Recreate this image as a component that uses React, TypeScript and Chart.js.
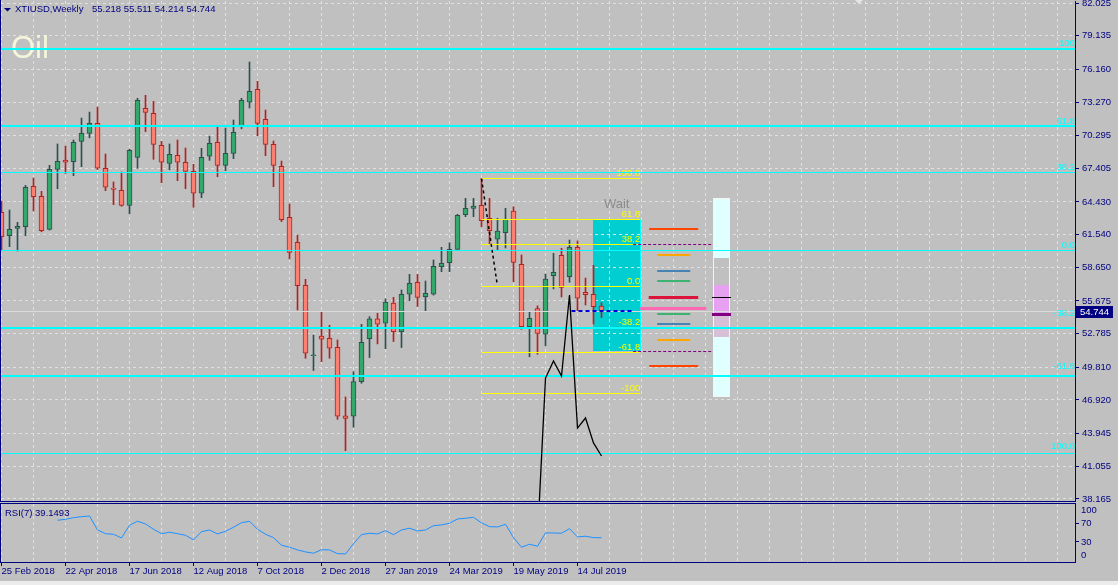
import React, { useEffect, useRef } from "react";
import { Chart, registerables } from "chart.js";

Chart.register(...registerables);

// ---------------- data ----------------
const SYMBOL_TEXT = "XTIUSD,Weekly";
const LAST_BAR_OHLC = [55.218, 55.511, 54.214, 54.744];
const CHART_TITLE = "Oil";
const RSI_TITLE = "RSI(7)";
const WAIT_TEXT = "Wait";

const DATE_LABELS = [
  "25 Feb 2018", "22 Apr 2018", "17 Jun 2018", "12 Aug 2018", "7 Oct 2018",
  "2 Dec 2018", "27 Jan 2019", "24 Mar 2019", "19 May 2019", "14 Jul 2019",
];
const BARS_PER_LABEL = 8;
const BARS_PER_GRID = 4;
const VISIBLE_BARS = 134.25;
const FIRST_BAR_OFFSET = -0.0625;

const PRICE_TICKS = [82.025, 79.135, 76.16, 73.27, 70.295, 67.405, 64.43, 61.54, 58.65, 55.675, 52.785, 49.81, 46.92, 43.945, 41.055, 38.165];
const PRICE_MIN = 37.988;
const PRICE_MAX = 82.202;
const RSI_TICKS = [100, 70, 30, 0];
const RSI_MARKED = [70, 30];
const RSI_MIN = -14;
const RSI_MAX = 113.1;

const OPEN = [63.52, 61.45, 62.09, 62.24, 65.82, 64.93, 62.01, 67.32, 68.14, 67.99,
  69.79, 70.5, 71.38, 67.41, 65.66, 65.46, 64.13, 68.38, 72.71, 72.27,
  69.44, 67.85, 68.56, 67.94, 67.14, 65.2, 68.47, 69.71, 67.67, 68.73,
  71.12, 73.25, 74.39, 71.74, 69.53, 67.58, 63.07, 60.86, 57.06, 50.83,
  52.58, 52.38, 51.58, 45.53, 45.48, 48.54, 52.35, 54.09, 53.71, 55.48,
  52.97, 56.27, 57.33, 56.06, 56.27, 58.71, 59.06, 60.24, 63.3, 63.87,
  64.13, 62.99, 61.15, 61.71, 63.63, 58.92, 53.4, 55.01, 52.73, 57.91,
  59.71, 57.82, 60.42, 56.45, 56.27, 55.218];
const HIGH = [64.52, 63.72, 62.63, 65.9, 66.55, 65.37, 67.67, 69.56, 69.38, 69.91,
  71.85, 72.38, 72.82, 68.67, 66.2, 67.08, 69.09, 73.6, 73.86, 73.33,
  69.79, 69.56, 69.91, 69.2, 67.76, 69.18, 70.24, 71.06, 70.97, 71.68,
  73.6, 76.81, 75.1, 72.56, 69.82, 68.05, 64.25, 61.51, 57.59, 52.66,
  54.7, 53.53, 52.23, 47.19, 49.42, 53.61, 54.29, 54.59, 55.86, 56.0,
  56.65, 58.03, 58.03, 57.44, 59.3, 60.42, 60.83, 63.34, 64.75, 64.75,
  66.5, 64.75, 62.99, 63.87, 64.01, 59.74, 54.67, 55.24, 58.06, 59.89,
  60.33, 61.07, 60.98, 57.7, 58.83, 55.511];
const LOW = [60.13, 60.48, 60.09, 61.45, 63.63, 61.8, 61.95, 65.6, 66.96, 66.75,
  67.55, 70.1, 67.3, 65.43, 64.19, 64.05, 63.39, 67.41, 70.64, 68.2,
  66.13, 67.28, 66.31, 65.6, 63.96, 64.81, 68.11, 66.66, 67.19, 68.26,
  70.9, 72.74, 70.29, 68.52, 65.78, 62.69, 59.39, 54.88, 50.61, 49.53,
  50.31, 50.61, 45.21, 42.44, 44.51, 48.4, 50.67, 51.88, 51.46, 52.09,
  51.56, 55.7, 55.19, 54.81, 56.2, 58.26, 58.26, 60.12, 63.13, 63.13,
  62.24, 60.65, 60.18, 60.36, 57.38, 53.17, 50.74, 50.96, 51.72, 56.74,
  56.03, 57.33, 54.81, 55.32, 53.64, 54.214];
const CLOSE = [61.37, 62.01, 62.28, 65.73, 64.9, 61.89, 67.32, 68.03, 67.94, 69.71,
  70.5, 71.38, 67.41, 65.73, 65.55, 64.13, 69.0, 73.42, 72.36, 69.53,
  67.94, 68.64, 67.94, 67.14, 65.2, 68.38, 69.62, 67.67, 68.73, 70.59,
  73.42, 74.22, 71.38, 69.53, 67.67, 62.86, 59.98, 57.03, 51.06, 50.83,
  52.29, 51.5, 45.5, 45.3, 48.54, 52.02, 54.09, 53.62, 55.57, 52.97,
  56.27, 57.24, 56.0, 56.36, 58.74, 59.01, 60.24, 63.25, 63.87, 64.07,
  62.77, 61.89, 61.86, 62.9, 59.09, 53.4, 54.14, 52.8, 57.62, 58.21,
  56.88, 60.42, 55.92, 56.24, 55.17, 54.744];

const RSI = [null, null, null, null, null, null, null,
  77.5, 79.6, 83.2, 85.3, 86.9, 56.2, 48.1, 46.8, 38.7, 66.5,
  75.3, 69.4, 57.8, 48.1, 51.2, 48.1, 44.6, 34.4, 52.5, 56.2,
  47.5, 53.4, 62.1, 72.2, 75.3, 57.8, 46.8, 39.4, 22.8, 18.4,
  12.5, 8.1, 5.3, 13.0, 12.5, 4.4, 3.7, 26.3, 46.0, 49.0,
  47.5, 54.7, 46.0, 56.2, 60.0, 54.0, 56.2, 65.6, 67.2, 70.9,
  80.3, 81.8, 84.0, 71.6, 63.5, 62.8, 68.7, 39.4, 18.4, 24.9,
  20.6, 49.7, 49.7, 49.0, 59.1, 40.9, 42.5, 39.4, 39.1493];

const PROJECTION_BARS = [67, 68, 69, 70, 71, 72, 73, 74, 75];
const PROJECTION_VALUES = [34.7, 48.86, 50.37, 49.04, 56.2, 44.44, 45.33, 43.12, 41.97];
const TREND_BARS = [60, 61.93];
const TREND_VALUES = [66.5, 57.29];
const CURRENT_LEVEL_BARS = [71.25, 79.0];
const CURRENT_LEVEL = 54.8;

const FIB_LEVELS = [100, 61.8, 38.2, 0, -38.2, -61.8, -100];
const FIB_LABELS = ["100.0", "61.8", "38.2", "0.0", "-38.2", "-61.8", "-100"];
const FIB_ZERO = 57.0;
const FIB_HUNDRED = 66.5;
const FIB_BARS = [60, 79.84];
const BOX_BARS = [73.96, 79.9];
const BOX_PRICES = [62.95, 51.28];
const WAIT_AT = [75.3, 63.9];

const CYAN_LEVELS = [78.0, 71.12, 67.0, 60.1, 53.3, 49.02, 42.23];
const CYAN_LABELS = ["100", "61.8", "38.2", "0.0", "-38.2", "-61.8", "100.0"];

const ZONE_PRICES = [62.07, 59.77, 58.33, 57.47, 56.0, 54.97, 54.55, 53.66, 52.25, 49.95];
const ZONE_FROM = [80.96, 81.96, 81.96, 81.96, 80.9, 79.84, 81.96, 81.96, 81.96, 80.96];
const ZONE_TO = [87.09, 86.09, 86.09, 86.09, 87.09, 88.1, 86.09, 86.09, 86.09, 87.09];
const PURPLE_DASH_PRICES = [60.69, 51.22];
const PURPLE_DASH_BARS = [78.96, 88.93];

const GAUGE_BARS = [89.0, 91.0];
const GAUGE_RANGE = [64.75, 47.16];
const GAUGE_FROM = [64.75, 57.09, 54.5, 52.52];
const GAUGE_TO = [59.48, 54.6, 52.52, 47.16];
const GAUGE_MARKS = [56.0, 54.52];

// ---------------- styles ----------------
const FONT = "'Liberation Sans', Arial, sans-serif";
const BG = "#c0c0c0";
const NAVY = "#000080";
const GRID = "#e0e0e0";
const BULL_FILL = "#34a86a";
const BULL_LINE = "#2f4f4f";
const BEAR_FILL = "#fa8072";
const BEAR_LINE = "#b22222";
const CYAN = "#00ffff";
const BOX_FILL = "#00ced1";
const FIB_COLOR = "#ffff00";
const BID_COLOR = "#dadada";
const OIL_COLOR = "#f5f5dc";
const CYAN_WIDTHS = [2, 2, 1, 1, 2, 2, 1];
const CYAN_LABEL_LIFT = [2, 2, 2, 2, 11, 7, 4];
const ZONE_COLORS = ["#ff4500", "#ffa500", "#4682b4", "#3cb371", "#dc143c", "#ff69b4", "#3cb371", "#4682b4", "#ffa500", "#ff4500"];
const ZONE_WIDTHS = [2, 2, 2, 2, 3, 3, 2, 2, 2, 2];
const GAUGE_COLORS = ["#e0ffff", "#e6a2f0", "#d8bfd8", "#e0ffff"];
const GAUGE_MARK_COLORS = ["#000000", "#800080"];
const GAUGE_MARK_WIDTHS = [1, 3];

const X_MIN = FIRST_BAR_OFFSET;
const X_MAX = FIRST_BAR_OFFSET + VISIBLE_BARS;
const GRID_BARS: number[] = [];
for (let b = 0; b <= X_MAX; b += BARS_PER_GRID) GRID_BARS.push(b);

const crisp = (v: number, w: number) => (w % 2 === 1 ? Math.floor(v) + 0.5 : Math.round(v));

function hLine(ctx: CanvasRenderingContext2D, x1: number, x2: number, y: number, color: string, width: number, dash: number[] = []) {
  ctx.save();
  ctx.beginPath();
  ctx.strokeStyle = color;
  ctx.lineWidth = width;
  ctx.setLineDash(dash);
  const yy = crisp(y, width);
  ctx.moveTo(x1, yy);
  ctx.lineTo(x2, yy);
  ctx.stroke();
  ctx.restore();
}

const mainPlugin = {
  id: "mtMain",
  beforeDraw(chart: any) {
    const { ctx, scales } = chart;
    const x = scales.x, y = scales.y;
    const x1 = Math.round(x.getPixelForValue(BOX_BARS[0]));
    const x2 = Math.round(x.getPixelForValue(BOX_BARS[1]));
    const y1 = Math.round(y.getPixelForValue(BOX_PRICES[0]));
    const y2 = Math.round(y.getPixelForValue(BOX_PRICES[1]));
    ctx.save();
    ctx.fillStyle = BOX_FILL;
    ctx.fillRect(x1, y1, x2 - x1, y2 - y1);
    ctx.restore();
  },
  afterDatasetDraw(chart: any, args: any) {
    if (args.index !== 0) return;
    const { ctx, chartArea: a, scales } = chart;
    const x = scales.x, y = scales.y;
    ctx.save();
    ctx.beginPath();
    ctx.rect(a.left, a.top, a.right - a.left, a.bottom - a.top);
    ctx.clip();

    // title
    ctx.font = `31px ${FONT}`;
    ctx.fillStyle = OIL_COLOR;
    ctx.textAlign = "left";
    ctx.textBaseline = "alphabetic";
    ctx.fillText(CHART_TITLE, 11, 58);

    // box right edge
    const bx2 = Math.round(x.getPixelForValue(BOX_BARS[1]));
    ctx.fillStyle = CYAN;
    const by1 = Math.round(y.getPixelForValue(BOX_PRICES[0]));
    const by2 = Math.round(y.getPixelForValue(BOX_PRICES[1]));
    ctx.fillRect(bx2 - 1, by1, 1, by2 - by1);

    // fibonacci
    const fx1 = x.getPixelForValue(FIB_BARS[0]);
    const fx2 = x.getPixelForValue(FIB_BARS[1]);
    ctx.font = `9.5px ${FONT}`;
    ctx.textAlign = "right";
    FIB_LEVELS.forEach((lv, k) => {
      const p = FIB_ZERO + ((FIB_HUNDRED - FIB_ZERO) * lv) / 100;
      const yy = y.getPixelForValue(p);
      hLine(ctx, fx1, fx2, yy, FIB_COLOR, 1);
      ctx.fillStyle = FIB_COLOR;
      ctx.fillText(FIB_LABELS[k], fx2, Math.floor(yy) - 2);
    });

    // wait
    ctx.font = `13px ${FONT}`;
    ctx.fillStyle = "#8c8c8c";
    ctx.textAlign = "left";
    ctx.fillText(WAIT_TEXT, x.getPixelForValue(WAIT_AT[0]), y.getPixelForValue(WAIT_AT[1]));

    // gauge
    const gx1 = Math.floor(x.getPixelForValue(GAUGE_BARS[0]));
    const gx2 = Math.floor(x.getPixelForValue(GAUGE_BARS[1])) + 1;
    GAUGE_FROM.forEach((p, k) => {
      const ya = Math.round(y.getPixelForValue(p));
      const yb = Math.round(y.getPixelForValue(GAUGE_TO[k]));
      ctx.fillStyle = GAUGE_COLORS[k];
      ctx.fillRect(gx1, ya, gx2 - gx1, yb - ya);
    });
    const gt = Math.round(y.getPixelForValue(GAUGE_RANGE[0]));
    const gb = Math.round(y.getPixelForValue(GAUGE_RANGE[1]));
    ctx.strokeStyle = "#f4f4f4";
    ctx.lineWidth = 1;
    ctx.strokeRect(gx1 + 0.5, gt + 0.5, gx2 - gx1 - 1, gb - gt - 1);

    // zone levels
    ZONE_PRICES.forEach((p, k) => {
      hLine(ctx, x.getPixelForValue(ZONE_FROM[k]), x.getPixelForValue(ZONE_TO[k]), y.getPixelForValue(p), ZONE_COLORS[k], ZONE_WIDTHS[k]);
    });
    PURPLE_DASH_PRICES.forEach((p) => {
      hLine(ctx, x.getPixelForValue(PURPLE_DASH_BARS[0]), x.getPixelForValue(PURPLE_DASH_BARS[1]), y.getPixelForValue(p), "#800080", 1, [3, 2]);
    });

    // bid line
    hLine(ctx, a.left, a.right, y.getPixelForValue(CLOSE[CLOSE.length - 1]), BID_COLOR, 1);

    // cyan levels
    CYAN_LEVELS.forEach((p, k) => {
      hLine(ctx, a.left, a.right, y.getPixelForValue(p), CYAN, CYAN_WIDTHS[k]);
    });

    // gauge marks
    GAUGE_MARKS.forEach((p, k) => {
      hLine(ctx, gx1 - 1, gx2 + 1, y.getPixelForValue(p), GAUGE_MARK_COLORS[k], GAUGE_MARK_WIDTHS[k]);
    });
    ctx.restore();
  },
  afterDraw(chart: any) {
    const { ctx, chartArea: a, scales } = chart;
    const y = scales.y;
    ctx.save();
    // cyan labels
    ctx.font = `9.5px ${FONT}`;
    ctx.textAlign = "right";
    ctx.textBaseline = "alphabetic";
    ctx.fillStyle = CYAN;
    CYAN_LEVELS.forEach((p, k) => {
      ctx.fillText(CYAN_LABELS[k], a.right, Math.floor(y.getPixelForValue(p)) - CYAN_LABEL_LIFT[k]);
    });

    // header
    ctx.fillStyle = NAVY;
    ctx.beginPath();
    ctx.moveTo(4, 8);
    ctx.lineTo(11, 8);
    ctx.lineTo(7.5, 11.5);
    ctx.closePath();
    ctx.fill();
    ctx.textAlign = "left";
    ctx.fillText(SYMBOL_TEXT, 15, 12);
    ctx.fillText(LAST_BAR_OHLC.map((v) => v.toFixed(3)).join(" "), 92, 12);

    // shift marker
    ctx.fillStyle = "#e6e6e6";
    ctx.beginPath();
    ctx.moveTo(855, 0);
    ctx.lineTo(863, 0);
    ctx.lineTo(859, 4);
    ctx.closePath();
    ctx.fill();

    // left border
    ctx.fillStyle = NAVY;
    ctx.fillRect(0, 0, 1, a.bottom + 1);

    // price label
    const last = CLOSE[CLOSE.length - 1];
    const py = Math.round(y.getPixelForValue(last));
    ctx.fillStyle = NAVY;
    ctx.fillRect(a.right + 1, py - 6, 37, 12);
    ctx.fillStyle = "#ffffff";
    ctx.textBaseline = "middle";
    ctx.fillText(last.toFixed(3), a.right + 5, py + 0.5);
    ctx.restore();
  },
};

const rsiPlugin = {
  id: "mtRsi",
  afterDraw(chart: any) {
    const { ctx, chartArea: a } = chart;
    ctx.save();
    ctx.fillStyle = NAVY;
    ctx.fillRect(0, a.top - 1, a.right + 1, 1);
    ctx.fillRect(0, a.top - 1, 1, a.bottom - a.top + 2);
    ctx.font = `9.5px ${FONT}`;
    ctx.textAlign = "left";
    ctx.textBaseline = "alphabetic";
    const last = RSI[RSI.length - 1] as number;
    ctx.fillText(`${RSI_TITLE} ${last.toFixed(4)}`, 5, a.top + 12);
    ctx.restore();
  },
};

const sharedX = (showLabels: boolean, height: number) => ({
  type: "linear",
  min: X_MIN,
  max: X_MAX,
  offset: false,
  afterBuildTicks: (s: any) => {
    s.ticks = GRID_BARS.map((v) => ({ value: v }));
  },
  afterFit: (s: any) => {
    s.height = height;
    s.paddingLeft = 0;
    s.paddingRight = 0;
  },
  ticks: {
    display: showLabels,
    autoSkip: false,
    maxRotation: 0,
    minRotation: 0,
    align: "start",
    padding: 0,
    color: NAVY,
    font: { family: FONT, size: 9.5 },
    callback: (v: number) => {
      const k = v / BARS_PER_LABEL;
      return Number.isInteger(k) && k < DATE_LABELS.length ? DATE_LABELS[k] : "";
    },
  },
  grid: {
    color: GRID,
    lineWidth: 1,
    offset: false,
    drawTicks: showLabels,
    tickLength: 4,
    tickColor: (c: any) => {
      const v = c.tick ? c.tick.value : -1;
      const k = v / BARS_PER_LABEL;
      return Number.isInteger(k) && k < DATE_LABELS.length ? NAVY : "rgba(0,0,0,0)";
    },
  },
  border: { display: true, color: NAVY, width: 1, dash: [3, 3] },
});

export default function App() {
  const mainRef = useRef<HTMLCanvasElement>(null);
  const rsiRef = useRef<HTMLCanvasElement>(null);

  useEffect(() => {
    const idx = OPEN.map((_, i) => i);
    const bull = (i: number) => CLOSE[i] >= OPEN[i];

    const main = new Chart(mainRef.current as HTMLCanvasElement, {
      type: "bar",
      data: {
        datasets: [
          {
            type: "bar",
            label: "bodies",
            data: idx.map((i) => ({ x: i, y: [OPEN[i], CLOSE[i]] })),
            backgroundColor: idx.map((i) => (bull(i) ? BULL_FILL : BEAR_FILL)),
            borderColor: idx.map((i) => (bull(i) ? BULL_LINE : BEAR_LINE)),
            borderWidth: 1,
            borderSkipped: false,
            barThickness: 5,
            minBarLength: 1,
            grouped: false,
            order: 4,
            clip: 0,
          },
          {
            type: "bar",
            label: "wicks",
            data: idx.map((i) => ({ x: i, y: [LOW[i], HIGH[i]] })),
            backgroundColor: idx.map((i) => (bull(i) ? BULL_LINE : BEAR_LINE)),
            borderWidth: 0,
            barThickness: 1,
            grouped: false,
            order: 5,
            clip: 0,
          },
          {
            type: "line",
            label: "projection",
            data: PROJECTION_BARS.map((b, k) => ({ x: b, y: PROJECTION_VALUES[k] })),
            borderColor: "#000000",
            borderWidth: 1.3,
            pointRadius: 0,
            tension: 0,
            order: 1,
            clip: 0,
          },
          {
            type: "line",
            label: "trend",
            data: TREND_BARS.map((b, k) => ({ x: b, y: TREND_VALUES[k] })),
            borderColor: "#000000",
            borderWidth: 1.5,
            borderDash: [3, 3],
            pointRadius: 0,
            order: 1,
            clip: 0,
          },
          {
            type: "line",
            label: "current",
            data: CURRENT_LEVEL_BARS.map((b) => ({ x: b, y: CURRENT_LEVEL })),
            borderColor: "#0000dd",
            borderWidth: 2,
            borderDash: [4, 3],
            pointRadius: 0,
            order: 1,
            clip: 0,
          },
        ],
      },
      options: {
        responsive: false,
        animation: false,
        devicePixelRatio: 1,
        events: [],
        layout: { autoPadding: false, padding: { left: 1, top: 1, right: 0, bottom: 0 } },
        plugins: { legend: { display: false }, tooltip: { enabled: false } },
        scales: {
          x: sharedX(false, 1),
          y: {
            type: "linear",
            position: "right",
            min: PRICE_MIN,
            max: PRICE_MAX,
            afterBuildTicks: (s: any) => {
              s.ticks = PRICE_TICKS.map((v) => ({ value: v }));
            },
            afterFit: (s: any) => {
              s.width = 43;
              s.paddingTop = 0;
              s.paddingBottom = 0;
            },
            ticks: {
              autoSkip: false,
              color: NAVY,
              padding: 3,
              font: { family: FONT, size: 9.5 },
              callback: (v: number) => Number(v).toFixed(3),
            },
            grid: { color: GRID, lineWidth: 1, drawTicks: true, tickLength: 4, tickColor: NAVY },
            border: { display: true, color: NAVY, width: 1, dash: [3, 3] },
          },
        },
      } as any,
      plugins: [mainPlugin],
    } as any);

    const rsi = new Chart(rsiRef.current as HTMLCanvasElement, {
      type: "line",
      data: {
        datasets: [
          {
            label: "RSI",
            data: idx.filter((i) => RSI[i] !== null).map((i) => ({ x: i, y: RSI[i] })),
            borderColor: "#1e90ff",
            borderWidth: 1,
            pointRadius: 0,
            tension: 0,
            clip: 0,
          },
        ],
      },
      options: {
        responsive: false,
        animation: false,
        devicePixelRatio: 1,
        events: [],
        layout: { autoPadding: false, padding: { left: 1, top: 2, right: 0, bottom: 0 } },
        plugins: { legend: { display: false }, tooltip: { enabled: false } },
        scales: {
          x: sharedX(true, 19),
          y: {
            type: "linear",
            position: "right",
            min: RSI_MIN,
            max: RSI_MAX,
            afterBuildTicks: (s: any) => {
              s.ticks = RSI_TICKS.map((v) => ({ value: v }));
            },
            afterFit: (s: any) => {
              s.width = 43;
              s.paddingTop = 0;
              s.paddingBottom = 0;
            },
            ticks: {
              autoSkip: false,
              color: NAVY,
              padding: 2,
              font: { family: FONT, size: 9.5 },
              callback: (v: number) => String(v),
            },
            grid: {
              drawOnChartArea: false,
              drawTicks: true,
              tickLength: 4,
              tickColor: (c: any) => (c.tick && RSI_MARKED.includes(c.tick.value) ? NAVY : "rgba(0,0,0,0)"),
            },
            border: { display: true, color: NAVY, width: 1 },
          },
        },
      } as any,
      plugins: [rsiPlugin],
    } as any);

    return () => {
      main.destroy();
      rsi.destroy();
    };
  }, []);

  return (
    <div style={{ position: "fixed", left: 0, top: 0, width: 1118, height: 585, background: BG, overflow: "hidden" }}>
      <canvas ref={mainRef} width={1118} height={502} style={{ position: "absolute", left: 0, top: 0 }} />
      <canvas ref={rsiRef} width={1118} height={79} style={{ position: "absolute", left: 0, top: 502 }} />
      <div style={{ position: "absolute", left: 0, top: 581, width: 1118, height: 4, background: "#ececec" }} />
    </div>
  );
}
